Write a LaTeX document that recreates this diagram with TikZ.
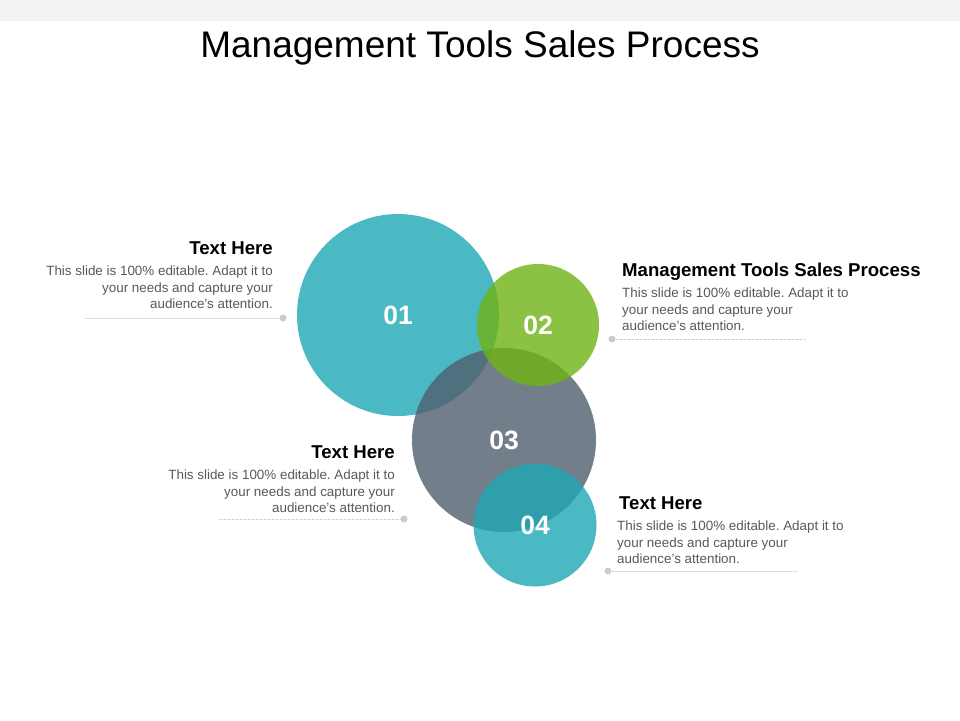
\documentclass[tikz,border=0pt]{standalone}
\usepackage{fontspec}
\setmainfont{Liberation Sans}
\frenchspacing
\usetikzlibrary{positioning}
\definecolor{bandgray}{HTML}{F2F2F2}
\definecolor{stepteal}{HTML}{1EA8B5}
\definecolor{stepgreen}{HTML}{6FB314}
\definecolor{stepslate}{HTML}{505E6F}
\definecolor{bodygray}{HTML}{595959}
\definecolor{guidegray}{HTML}{CCCCCC}

\begin{document}
\begin{tikzpicture}[
    x=1pt, y=-1pt,
    bubble/.style={circle, inner sep=0pt, fill opacity=0.8, text opacity=1, text=white, font=\fontsize{26.5}{26.5}\selectfont\bfseries},
    heading/.style={inner sep=0pt, font=\fontsize{18.6}{18.6}\selectfont\bfseries},
    body/.style={inner sep=0pt, text=bodygray, font=\fontsize{13.4}{16.5}\selectfont},
    guidedot/.style={circle, fill=guidegray, inner sep=0pt, minimum size=7pt},
    guide/.style={densely dotted, draw=guidegray, line width=0.6pt}
  ]
    \useasboundingbox (0,0) rectangle (960,720);
    \fill[white] (0,0) rectangle (960,720);
    \fill[bandgray] (0,0) rectangle (960,21);

    \node[anchor=base, inner sep=0pt, font=\fontsize{37}{37}\selectfont] (title) at (480,57) {Management Tools Sales Process};

    % circles, back to front
    \node[bubble, fill=stepteal, minimum size=202pt] (bub1) at (398,315) {01};
    \node[bubble, fill=stepslate, minimum size=184pt] (bub3) at (504,440) {03};
    \node[bubble, fill=stepgreen, minimum size=122pt] (bub2) at (538,325) {02};
    \node[bubble, fill=stepteal, minimum size=123pt] (bub4) at (535,525) {04};

    % top left
    \node[heading, anchor=base east] (head1) at (273,254) {Text Here};
    \node[body, anchor=north east, align=right] (text1) at (273,266) {This slide is 100\% editable. Adapt it to\\your needs and capture your\\audience's attention.};
    \node[guidedot] (pin1) at (283,318) {};
    \coordinate (end1) at (85,318);
    \draw[guide] (pin1) -- (end1);

    % top right
    \node[heading, anchor=base west] (head2) at (622,276) {Management Tools Sales Process};
    \node[body, anchor=north west, align=left] (text2) at (622,288) {This slide is 100\% editable. Adapt it to\\your needs and capture your\\audience's attention.};
    \node[guidedot] (pin2) at (612,339) {};
    \coordinate (end2) at (806,339);
    \draw[guide] (pin2) -- (end2);

    % bottom left
    \node[heading, anchor=base east] (head3) at (395,458) {Text Here};
    \node[body, anchor=north east, align=right] (text3) at (395,470) {This slide is 100\% editable. Adapt it to\\your needs and capture your\\audience's attention.};
    \node[guidedot] (pin3) at (404,519) {};
    \coordinate (end3) at (218,519);
    \draw[guide] (pin3) -- (end3);

    % bottom right
    \node[heading, anchor=base west] (head4) at (619,509) {Text Here};
    \node[body, anchor=north west, align=left] (text4) at (617,521) {This slide is 100\% editable. Adapt it to\\your needs and capture your\\audience's attention.};
    \node[guidedot] (pin4) at (608,571) {};
    \coordinate (end4) at (797,571);
    \draw[guide] (pin4) -- (end4);
  \end{tikzpicture}
\end{document}
